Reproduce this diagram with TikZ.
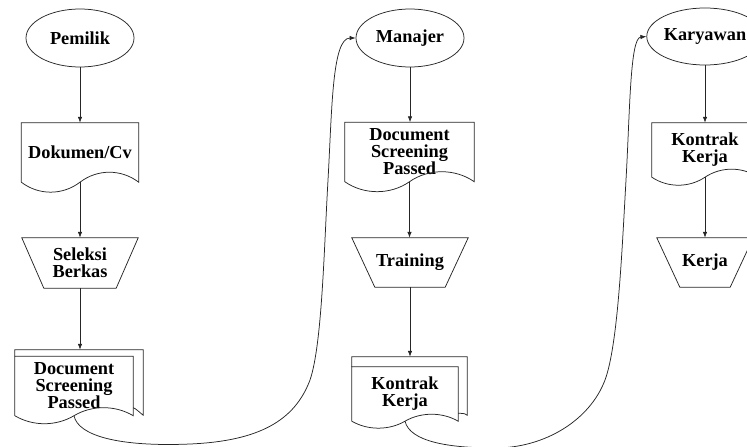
\documentclass[tikz,border=0pt]{standalone}
\usepackage{fontspec}
\setmainfont{Liberation Serif}
\usetikzlibrary{shapes.geometric,arrows.meta}
\newcommand\mydoc[3]{\draw[shp] (#1.south west) -- (#1.north west) -- (#1.north east) -- (#1.south east) .. controls +(-#2,-#3) and +(#2,-#3) .. (#1.south) .. controls +(-#2,#3) and +(#2,#3) .. (#1.south west) -- cycle;}
\newcommand\mytrap[2]{\draw[shp] (#1.north west) -- (#1.north east) -- ([xshift=-#2pt]#1.south east) -- ([xshift=#2pt]#1.south west) -- cycle;}
\begin{document}
\begin{tikzpicture}[x=1pt,y=-1pt,
  shp/.style={draw=black!85, line width=0.75pt},
  lbl/.style={inner sep=0pt, align=center, font=\bfseries\fontsize{18.3}{17}\selectfont, text=black},
  term/.style={ellipse, shp, lbl, minimum width=108pt, minimum height=58pt},
  arr/.style={draw=black!85, line width=0.75pt, -{Latex[length=6pt,width=4.5pt]}}]
\useasboundingbox (0,0) rectangle (747,447);
\clip (0,0) rectangle (747,447);
% column 1
\node[term] (pem) at (80,38) {Pemilik};
\node[lbl, minimum width=117pt, minimum height=59pt] (d1) at (80,152.5) {Dokumen/Cv};
\node[lbl, minimum width=116pt, minimum height=50pt] (t1) at (80,263) {Seleksi\\Berkas};
\node[lbl, minimum width=128pt, minimum height=65pt] (m1b) at (79,382.5) {};
\node[lbl, minimum width=118pt, minimum height=59pt] (m1) at (74,386) {Document\\Screening\\Passed};
\mydoc{d1}{17.5}{13.3}
\mytrap{t1}{22}
\draw[shp] (m1.north west) -- (m1b.north west) -- (m1b.north east) -- (m1b.south east) .. controls +(-4,-3) and +(3,1) .. ([yshift=8pt]m1.south east);
\mydoc{m1}{18}{10.7}
% column 2
\node[term] (mgr) at (410,38) {Manajer};
\node[lbl, minimum width=129pt, minimum height=59pt] (d2) at (409.5,152) {Document\\Screening\\Passed};
\node[lbl, minimum width=116pt, minimum height=49pt] (t2) at (410,262.5) {Training};
\node[lbl, minimum width=115pt, minimum height=58pt] (m2b) at (409.5,386) {};
\node[lbl, minimum width=106pt, minimum height=54pt] (m2) at (405,394) {Kontrak\\Kerja};
\mydoc{d2}{19}{13.3}
\mytrap{t2}{23}
\draw[shp] (m2.north west) -- (m2b.north west) -- (m2b.north east) -- (m2b.south east) .. controls +(-4,-3) and +(3,1) .. ([yshift=8pt]m2.south east);
\mydoc{m2}{16}{9.3}
% column 3
\node[term, minimum width=106pt, minimum height=57pt] (kar) at (705,36.5) {Karyawan};
\node[lbl, minimum width=106pt, minimum height=54pt] (d3) at (705,150) {Kontrak\\Kerja};
\node[lbl, minimum width=96pt, minimum height=49pt] (t3) at (705,262.5) {Kerja};
\mydoc{d3}{16}{10.7}
\mytrap{t3}{23}
% vertical arrows
\draw[arr] (pem.south) -- (pem.south |- d1.north);
\draw[arr] (d1.south) -- (d1.south |- t1.north);
\draw[arr] (t1.south) -- (t1.south |- m1b.north);
\draw[arr] (mgr.south) -- (mgr.south |- d2.north);
\draw[arr] (d2.south) -- (d2.south |- t2.north);
\draw[arr] (t2.south) -- (t2.south |- m2b.north);
\draw[arr] (kar.south) -- (kar.south |- d3.north);
\draw[arr] (d3.south) -- (d3.south |- t3.north);
% curved connectors
\draw[arr] (m1.south) .. controls (78,436) and (120,447) .. (190,444) .. controls (260,441) and (295,420) .. (310,380) .. controls (322,345) and (324,250) .. (328,180) .. controls (332,110) and (332,38) .. (mgr.west);
\draw[arr] (m2.south) .. controls (410,442) and (450,448) .. (495,448) .. controls (545,448) and (590,420) .. (605,380) .. controls (618,345) and (622,250) .. (626,180) .. controls (630,110) and (630,38) .. (kar.west);
\end{tikzpicture}
\end{document}
